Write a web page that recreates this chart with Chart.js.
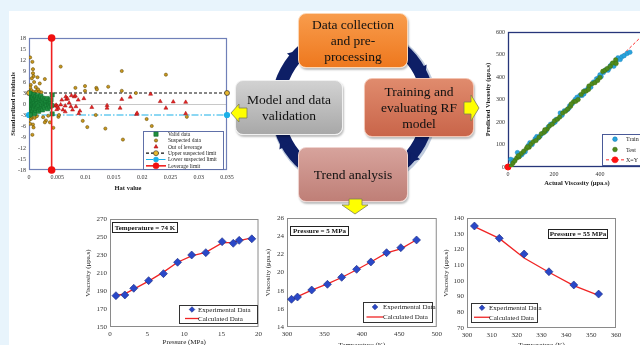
<!DOCTYPE html>
<html>
<head>
<meta charset="utf-8">
<script src="https://cdn.jsdelivr.net/npm/chart.js@4.4.1/dist/chart.umd.min.js"></script>
<style>
  html, body { margin: 0; padding: 0; }
  body { width: 640px; height: 345px; overflow: hidden; position: relative; background: #e8f4fc;
         font-family: 'Liberation Serif', 'Times New Roman', serif; }
  #panel { position: absolute; left: 9px; top: 11px; width: 640px; height: 345px; background: #fff; }
  canvas { position: absolute; }
  .step { position: absolute; box-sizing: border-box; border-radius: 8px; display: flex; align-items: center;
          justify-content: center; text-align: center; font-size: 13.5px; line-height: 16px; color: #111;
          z-index: 2; box-shadow: 1px 2px 2px rgba(0,0,0,0.25); }
  #s1 { left: 298px; top: 13px; width: 110px; height: 55px; background: linear-gradient(#f89c4c, #ee781e); border: 1.5px solid #fcd6b4; }
  #s2 { left: 364px; top: 78px; width: 110px; height: 59px; background: linear-gradient(#e08b6d, #c9654a); border: 1.5px solid #f3c4b2; }
  #s3 { left: 298px; top: 147px; width: 110px; height: 55px; background: linear-gradient(#d7a39c, #bf7f77); border: 1.5px solid #efd3cf; }
  #s4 { left: 235px; top: 80px; width: 108px; height: 55px; background: linear-gradient(#d2d2d2, #a8a8a8); border: 1.5px solid #f0f0f0; }
  #arrows { position: absolute; left: 0; top: 0; z-index: 3; }
</style>
</head>
<body>
<div id="panel"></div>
<canvas id="ring" width="180" height="180" style="left:263px;top:17px;width:180px;height:180px;z-index:1"></canvas>
<canvas id="williams" width="240" height="175" style="left:0;top:20px;width:240px;height:175px"></canvas>
<canvas id="parity" width="200" height="175" style="left:470px;top:20px;width:200px;height:175px"></canvas>
<canvas id="c74" width="190" height="147" style="left:75px;top:205px;width:190px;height:147px"></canvas>
<canvas id="c5" width="190" height="147" style="left:255px;top:205px;width:190px;height:147px"></canvas>
<canvas id="c55" width="190" height="147" style="left:435px;top:205px;width:190px;height:147px"></canvas>

<div class="step" id="s1">Data collection<br>and pre-<br>processing</div>
<div class="step" id="s2">Training and<br>evaluating RF<br>model</div>
<div class="step" id="s3">Trend analysis</div>
<div class="step" id="s4">Model and data<br>validation</div>

<svg id="arrows" width="640" height="345">
  <g fill="#ffff00" stroke="#7d7d55" stroke-width="0.8">
    <polygon points="231,113 239,104 239,108 247,108 247,118 239,118 239,122"/>
    <polygon points="479,108 471,95 471,102 464,102 464,114 471,114 471,121"/>
    <polygon points="349,199 362,199 362,205 368,205 355,214 342,205 349,205"/>
  </g>
</svg>

<script>
// ---- Williams plot (hat value, standardized residual) ----
const hatTicks = [0, 0.005, 0.01, 0.015, 0.02, 0.025, 0.03, 0.035];
const residTicks = [-18, -15, -12, -9, -6, -3, 0, 3, 6, 9, 12, 15, 18];
const validData = [
  [0.0001,0.5],[0.0001,-0.4],[0.0001,1.6],[0.0001,-1.8],[0.0002,2.4],[0.0002,-2.5],[0.0002,0.1],
  [0.0003,1.1],[0.0003,-1.1],[0.0003,2.0],[0.0003,-2.1],[0.0004,0.6],[0.0004,-0.7],[0.0004,2.7],
  [0.0005,1.4],[0.0005,-1.5],[0.0005,0.0],[0.0006,2.2],[0.0006,-2.3],[0.0006,0.9],[0.0007,-0.3],
  [0.0007,1.8],[0.0007,-1.9],[0.0008,0.4],[0.0008,-0.9],[0.0009,2.5],[0.0009,1.2],[0.0009,-1.3],
  [0.0010,0.2],[0.0010,-2.6],[0.0011,1.6],[0.0011,-0.5],[0.0012,2.0],[0.0012,-1.7],[0.0013,0.8],
  [0.0013,-0.2],[0.0014,1.3],[0.0014,-1.2],[0.0015,2.3],[0.0015,0.1],[0.0016,-0.8],[0.0016,1.7],
  [0.0017,-2.0],[0.0018,0.6],[0.0018,-0.4],[0.0019,1.4],[0.0020,-1.4],[0.0020,0.3],[0.0021,2.1],
  [0.0022,-0.9],[0.0022,1.0],[0.0023,-0.1],[0.0024,1.6],[0.0024,-1.6],[0.0025,0.5],[0.0026,-0.6],
  [0.0027,1.1],[0.0028,-1.0],[0.0029,0.2],[0.0030,0.9],[0.0031,-0.5],[0.0032,1.5],[0.0033,-1.3],
  [0.0034,0.4],[0.0035,-0.2],[0.0036,0.8],[0.0037,-0.8],[0.0038,0.3],[0.0040,-0.4],[0.0041,2.5],
  [0.0041,-2.7],[0.0039,1.2],[0.0002,-3.0],[0.0001,3.0]
];
const suspectedData = [
  [0.0002,12.7],[0.0006,11.5],[0.0007,9.5],[0.0007,8.4],[0.0008,7.6],[0.0015,7.3],[0.0028,6.8],
  [0.0056,10.2],[0.0164,9.0],[0.0242,8.0],[0.0099,4.9],[0.0082,4.4],[0.0119,4.4],[0.0120,4.0],
  [0.0140,4.7],[0.0099,3.6],[0.0164,3.6],[0.0189,3.0],[0.0052,-3.5],[0.0053,-3.0],[0.0043,-6.5],
  [0.0095,-4.6],[0.0103,-6.3],[0.0118,-3.0],[0.0135,-6.7],[0.0166,-9.7],[0.0208,-4.1],[0.0217,-6.0],
  [0.0279,-3.5],[0.0030,-4.5],[0.0028,-5.0],[0.0006,-8.4],[0.0001,-4.3],[0.0002,-5.4],[0.0007,-5.6],
  [0.0004,-4.0],[0.0008,-6.4],[0.0001,3.4],[0.0004,3.8],[0.0008,3.3],[0.0013,3.5],[0.0018,3.4],
  [0.0012,4.6],[0.0016,4.0],[0.0022,3.2],[0.0003,5.2],[0.0009,6.0],[0.0019,5.6],[0.0005,-3.5],
  [0.0010,-3.8],[0.0014,-3.3],[0.0025,-3.6],[0.0034,-3.2],[0.0037,-5.0],[0.0002,4.5],[0.0005,7.0]
];
const outOfLeverage = [
  [0.0046,-0.5],[0.0048,-0.3],[0.0050,-0.6],[0.0052,-1.2],[0.0049,-1.5],[0.0058,1.1],[0.0065,2.0],
  [0.0066,1.3],[0.0068,1.5],[0.0064,-0.5],[0.0060,-1.6],[0.0064,-2.1],[0.0074,-0.7],[0.0077,-1.6],
  [0.0075,2.3],[0.0080,2.0],[0.0082,2.2],[0.0087,1.1],[0.0083,-0.7],[0.0088,-2.6],[0.0097,1.5],
  [0.0111,-0.9],[0.0138,-0.4],[0.0138,-1.1],[0.0161,-1.1],[0.0164,1.3],[0.0179,1.9],[0.0190,-2.8],
  [0.0191,-2.5],[0.0215,2.7],[0.0232,0.7],[0.0242,-1.1],[0.0255,0.6],[0.0277,0.5],[0.0277,-2.6],
  [0.0056,-0.2],[0.0071,0.3],[0.0090,-1.9]
];
const upperLimit = [[0, 3], [0.035, 3]];
const lowerLimit = [[0, -3], [0.035, -3]];
const leverageLimit = [[0.004, -18], [0.004, 18]];

// ---- predicted vs actual (actual, predicted) ----
const viscTicks = [0, 100, 200, 300, 400, 500, 600];
const actualTicks = [0, 200, 400, 600];
const trainData = [
  [12,34],[18,22],[25,30],[41,64],[52,50],[60,55],[75,68],[88,95],[95,108],[105,100],[118,125],
  [125,135],[140,138],[152,150],[165,160],[175,178],[185,190],[198,196],[210,212],[227,240],[235,230],
  [245,250],[258,255],[268,272],[280,282],[292,300],[300,310],[312,318],[322,318],[335,340],[348,350],
  [360,355],[372,378],[385,392],[395,398],[405,402],[415,420],[425,432],[435,430],[445,450],[452,458],
  [460,448],[470,470],[478,485],[488,478],[495,490],[505,495],[518,505],[530,510],[65,62],[130,128],
  [205,200],[265,262],[330,325],[400,410],[440,440]
];
const testData = [
  [15,5],[22,18],[30,28],[38,40],[48,45],[58,60],[68,70],[80,82],[92,88],[100,102],[110,112],[122,118],
  [135,132],[145,148],[158,155],[170,168],[180,182],[192,190],[202,205],[215,212],[225,222],[238,240],
  [250,248],[260,258],[272,270],[285,290],[295,292],[305,300],[318,322],[328,335],[340,338],[352,360],
  [365,370],[378,375],[390,385],[400,398],[412,425],[422,430],[432,438],[445,448],[455,462],[468,476],
  [470,460],[350,345],[275,280],[160,165],[85,90],[45,50]
];
const identityLine = [[0, 0], [600, 600]];

// ---- trend charts ----
const pressure74 = [0.8, 2.0, 3.2, 5.2, 7.2, 9.1, 11.0, 12.9, 15.1, 16.6, 17.4, 19.1];
const exp74 = [184.8, 185.6, 193, 201.5, 209.3, 221.9, 230, 232.6, 244.8, 243, 246.3, 248];
const calc74 = [185, 186.8, 192, 201, 211, 222, 229, 233, 243.5, 244, 246, 249];
const pTicks74 = [0, 5, 10, 15, 20];
const vTicks74 = [150, 170, 190, 210, 230, 250, 270];

const temp5 = [306, 314, 333, 354, 373, 393, 412, 433, 452, 473];
const exp5 = [17.05, 17.3, 18.07, 18.7, 19.47, 20.35, 21.16, 22.18, 22.73, 23.58];
const calc5 = [17.0, 17.35, 18.05, 18.75, 19.45, 20.3, 21.15, 22.15, 22.6, 23.6];
const tTicks5 = [300, 350, 400, 450, 500];
const vTicks5 = [14, 16, 18, 20, 22, 24, 26];

const temp55 = [303, 313, 323, 333, 343, 353];
const exp55 = [134.9, 127.1, 117.1, 105.8, 97.4, 91.6];
const calc55 = [134.5, 127, 114.5, 105.5, 97, 90.8];
const tTicks55 = [300, 310, 320, 330, 340, 350, 360];
const vTicks55 = [70, 80, 90, 100, 110, 120, 130, 140];

const SERIF = "'Liberation Serif', 'Times New Roman', serif";
Chart.defaults.font.family = SERIF;
Chart.defaults.color = '#333';
Chart.defaults.animation = false;
Chart.defaults.responsive = false;
Chart.defaults.events = [];
Chart.defaults.plugins.legend.display = false;
Chart.defaults.plugins.tooltip.enabled = false;

const pts = arr => arr.map(p => ({ x: p[0], y: p[1] }));
const zip = (xs, ys) => xs.map((x, i) => ({ x: x, y: ys[i] }));

function marker(c, style, x, y, r, fill, stroke) {
  c.beginPath();
  if (style === 'rect') {
    const h = r * Math.SQRT1_2;
    c.rect(x - h, y - h, 2 * h, 2 * h);
  } else if (style === 'rectRot') {
    c.moveTo(x, y - r); c.lineTo(x + r, y); c.lineTo(x, y + r); c.lineTo(x - r, y); c.closePath();
  } else if (style === 'triangle') {
    for (let k = 0; k < 3; k++) {
      const a = -Math.PI / 2 + k * 2 * Math.PI / 3;
      k ? c.lineTo(x + r * Math.cos(a), y + r * Math.sin(a)) : c.moveTo(x + r * Math.cos(a), y + r * Math.sin(a));
    }
    c.closePath();
  } else {
    c.arc(x, y, r, 0, Math.PI * 2);
  }
  c.fillStyle = fill; c.fill();
  if (stroke) { c.strokeStyle = stroke; c.lineWidth = 0.6; c.stroke(); }
}

// frame round the plot area
const frame = {
  id: 'frame',
  beforeDatasetsDraw(chart, args, o) {
    if (!o.color) return;
    const a = chart.chartArea, c = chart.ctx;
    c.save();
    c.strokeStyle = o.color; c.lineWidth = o.width || 1;
    c.strokeRect(a.left + 0.5, a.top + 0.5, a.width - 1, a.height - 1);
    c.restore();
  }
};

// boxed legend inside the plot area
const boxLegend = {
  id: 'boxLegend',
  afterDraw(chart, args, o) {
    if (!o.items) return;
    const a = chart.chartArea, c = chart.ctx;
    const x = a.left + o.x, y = a.top + o.y, rowH = o.h / o.items.length;
    c.save();
    c.fillStyle = '#fff'; c.fillRect(x, y, o.w, o.h);
    c.strokeStyle = o.border || '#333'; c.lineWidth = 1;
    c.strokeRect(x + 0.5, y + 0.5, o.w, o.h);
    o.items.forEach((idx, k) => {
      const ds = chart.data.datasets[idx];
      const cy = y + rowH * (k + 0.5), sx = x + o.sym;
      if (ds.showLine) {
        c.strokeStyle = ds.borderColor; c.lineWidth = ds.borderWidth;
        c.setLineDash(ds.borderDash || []);
        c.beginPath(); c.moveTo(sx - o.lineLen / 2, cy); c.lineTo(sx + o.lineLen / 2, cy); c.stroke();
        c.setLineDash([]);
      }
      if (ds.pointRadius > 0) {
        marker(c, ds.pointStyle || 'circle', sx, cy, ds.pointRadius * (o.ms || 1),
               ds.pointBackgroundColor || ds.backgroundColor, ds.pointBorderColor || ds.borderColor);
      }
      c.fillStyle = '#222'; c.font = o.font; c.textAlign = 'left'; c.textBaseline = 'middle';
      c.fillText(ds.label, x + o.tx, cy + 0.5);
    });
    c.restore();
  }
};

// condition label box
const noteBox = {
  id: 'noteBox',
  afterDraw(chart, args, o) {
    if (!o.text) return;
    const a = chart.chartArea, c = chart.ctx;
    const x = a.left + o.x, y = a.top + o.y;
    c.save();
    c.fillStyle = '#fff'; c.fillRect(x, y, o.w, o.h);
    c.strokeStyle = '#222'; c.lineWidth = 1; c.strokeRect(x + 0.5, y + 0.5, o.w, o.h);
    c.fillStyle = '#111'; c.font = o.font; c.textAlign = 'center'; c.textBaseline = 'middle';
    c.fillText(o.text, x + o.w / 2 + 0.5, y + o.h / 2 + 1);
    c.restore();
  }
};

Chart.register(frame, boxLegend, noteBox);

function linAxis(o) {
  return {
    type: 'linear', min: o.min, max: o.max,
    afterBuildTicks: s => { s.ticks = o.ticks.map(v => ({ value: v })); },
    afterFit: s => { if (o.w) s.width = o.w; if (o.h) s.height = o.h; },
    ticks: { autoSkip: false, maxRotation: 0, padding: o.pad || 3, color: '#333',
             font: { size: o.fs }, callback: v => String(v) },
    grid: o.grid || { display: false, drawTicks: false },
    border: { display: false },
    title: { display: true, text: o.title, color: '#222', padding: { top: 2, bottom: 3 },
             font: { size: o.tfs, weight: o.bold ? 'bold' : 'normal' } }
  };
}

// ---- Williams plot ----
new Chart(document.getElementById('williams'), {
  type: 'scatter',
  data: {
    datasets: [
      { label: 'Valid data', data: pts(validData), order: 1, pointStyle: 'rect', pointRadius: 3,
        backgroundColor: '#1f8f3f', borderColor: '#0f6a2a', borderWidth: 0.5 },
      { label: 'Suspected data', data: pts(suspectedData), order: 2, pointStyle: 'circle', pointRadius: 1.6,
        backgroundColor: '#c8961e', borderColor: '#5a4500', borderWidth: 0.5 },
      { label: 'Out of leverage', data: pts(outOfLeverage), order: 3, pointStyle: 'triangle', pointRadius: 2.3,
        backgroundColor: '#e82424', borderColor: '#a01010', borderWidth: 0.5 },
      { label: 'Upper suspected limit', data: pts(upperLimit), order: 4, showLine: true, clip: false,
        borderColor: '#111', borderWidth: 1.2, borderDash: [3, 2], pointRadius: 2.5,
        pointBackgroundColor: '#e8b830', pointBorderColor: '#333', pointBorderWidth: 0.7 },
      { label: 'Lower suspected limit', data: pts(lowerLimit), order: 5, showLine: true, clip: false,
        borderColor: '#1ab0e8', borderWidth: 1.2, borderDash: [7, 2, 1.5, 2], pointRadius: 2.5,
        pointBackgroundColor: '#1ab0e8', pointBorderColor: '#1ab0e8' },
      { label: 'Leverage limit', data: pts(leverageLimit), order: 0, showLine: true, clip: false,
        borderColor: '#f02020', borderWidth: 1.6, pointRadius: 3,
        pointBackgroundColor: '#f01010', pointBorderColor: '#f01010' }
    ]
  },
  options: {
    layout: { padding: { left: 7, right: 13, top: 18, bottom: 0 } },
    scales: {
      x: linAxis({ min: 0, max: 0.035, ticks: hatTicks, title: 'Hat value', fs: 6, tfs: 6.5, bold: true, h: 25, pad: 4 }),
      y: linAxis({ min: -18, max: 18, ticks: residTicks, title: 'Standardized residuals', fs: 6, tfs: 6.5, bold: true, w: 22,
                   grid: { display: true, drawTicks: false, lineWidth: 1,
                           color: c => (c.tick && c.tick.value === 0 ? '#c8c8c8' : 'rgba(0,0,0,0)') } })
    },
    plugins: {
      frame: { color: '#7080b8', width: 1.2 },
      boxLegend: { x: 114, y: 93, w: 80, h: 38, sym: 13, lineLen: 20, tx: 25, font: '5.5px ' + SERIF,
                   items: [0, 1, 2, 3, 4, 5], border: '#6070a8' }
    }
  }
});

// ---- predicted vs actual ----
new Chart(document.getElementById('parity'), {
  type: 'scatter',
  data: {
    datasets: [
      { label: 'Train', data: pts(trainData), order: 1, pointRadius: 2.3,
        backgroundColor: '#2aa3dc', borderColor: '#1a80b8', borderWidth: 0.4 },
      { label: 'Test', data: pts(testData), order: 0, pointRadius: 2.3,
        backgroundColor: '#4f8a1c', borderColor: '#3a6a10', borderWidth: 0.4 },
      { label: 'X=Y', data: pts(identityLine), order: 2, showLine: true, clip: false,
        borderColor: '#ff2a2a', borderWidth: 1, borderDash: [3, 2], pointRadius: 3,
        pointBackgroundColor: '#ff1010', pointBorderColor: '#ff1010' }
    ]
  },
  options: {
    layout: { padding: { left: 12, right: 24, top: 12, bottom: 5 } },
    scales: {
      x: linAxis({ min: 0, max: 600, ticks: actualTicks, title: 'Actual Viscosity (\u03bcpa.s)', fs: 6, tfs: 6.5, bold: true, h: 23, pad: 4 }),
      y: linAxis({ min: 0, max: 600, ticks: viscTicks, title: 'Predicted Viscosity (\u03bcpa.s)', fs: 6, tfs: 6.5, bold: true, w: 26 })
    },
    plugins: {
      frame: { color: '#26357a', width: 1.3 },
      boxLegend: { x: 94, y: 102, w: 60, h: 31, sym: 13, lineLen: 18, tx: 24, font: '6px ' + SERIF,
                   items: [0, 1, 2], border: '#4a5a98' }
    }
  }
});

// ---- trend charts ----
function trendChart(id, xs, exp, calc, o) {
  new Chart(document.getElementById(id), {
    type: 'scatter',
    data: {
      datasets: [
        { label: 'Experimental Data', data: zip(xs, exp), order: 0, pointStyle: 'rectRot', pointRadius: 4,
          backgroundColor: '#2a48c8', borderColor: '#1a2a80', borderWidth: 0.6 },
        { label: 'Calculated Data', data: zip(xs, calc), order: 1, showLine: true, pointRadius: 0,
          borderColor: '#f02424', borderWidth: 1.3 }
      ]
    },
    options: {
      layout: { padding: o.pad },
      scales: {
        x: linAxis({ min: o.xt[0], max: o.xt[o.xt.length - 1], ticks: o.xt, title: o.xTitle, fs: 7, tfs: 7, h: o.xh, pad: 3 }),
        y: linAxis({ min: o.yt[0], max: o.yt[o.yt.length - 1], ticks: o.yt, title: 'Viscosity (\u03bcpa.s)', fs: 7, tfs: 7, w: o.yw })
      },
      plugins: {
        frame: { color: '#8a8a8a', width: 1 },
        boxLegend: Object.assign({ items: [0, 1], font: '7px ' + SERIF, ms: 0.7 }, o.legend),
        noteBox: Object.assign({ font: 'bold 7px ' + SERIF }, o.note)
      }
    }
  });
}

trendChart('c74', pressure74, exp74, calc74, {
  xt: pTicks74, yt: vTicks74, xTitle: 'Pressure (MPa)', yw: 28, xh: 22,
  pad: { left: 7, right: 6, top: 14, bottom: 3 },
  legend: { x: 69, y: 86, w: 78, h: 18, sym: 13, lineLen: 14, tx: 19 },
  note: { x: 2, y: 3, w: 65, h: 10, text: 'Temperature = 74 K' }
});
trendChart('c5', temp5, exp5, calc5, {
  xt: tTicks5, yt: vTicks5, xTitle: 'Temperature (K)', yw: 25, xh: 25,
  pad: { left: 7, right: 7, top: 13, bottom: 0 },
  legend: { x: 76, y: 84, w: 69, h: 20, sym: 12, lineLen: 17, tx: 20 },
  note: { x: 3, y: 8, w: 58, h: 9, text: 'Pressure = 5 MPa' }
});
trendChart('c55', temp55, exp55, calc55, {
  xt: tTicks55, yt: vTicks55, xTitle: 'Temperature (K)', yw: 27, xh: 24,
  pad: { left: 5, right: 9, top: 13, bottom: 0 },
  legend: { x: 4, y: 85, w: 66, h: 19, sym: 11, lineLen: 16, tx: 18 },
  note: { x: 81, y: 11, w: 59, h: 9, text: 'Pressure = 55 MPa' }
});

// ---- workflow ring ----
const arrowAngles = [-141, -30, 38, 150];
const ringArrows = {
  id: 'ringArrows',
  beforeDatasetsDraw(chart) {
    const a = chart.chartArea, c = chart.ctx;
    const cx = (a.left + a.right) / 2, cy = (a.top + a.bottom) / 2;
    c.save();
    c.strokeStyle = 'rgba(150,170,200,0.6)'; c.lineWidth = 3;
    c.beginPath(); c.arc(cx + 1, cy + 1, 82, 0, Math.PI * 2); c.stroke();
    c.restore();
  },
  afterDraw(chart) {
    const a = chart.chartArea, c = chart.ctx;
    const cx = (a.left + a.right) / 2, cy = (a.top + a.bottom) / 2, r = 79;
    c.save();
    c.fillStyle = '#0e1f66';
    arrowAngles.forEach(deg => {
      const t = deg * Math.PI / 180;
      const bx = cx + r * Math.cos(t), by = cy + r * Math.sin(t);
      const dx = -Math.sin(t), dy = Math.cos(t);
      c.beginPath();
      c.moveTo(bx + dx * 8, by + dy * 8);
      c.lineTo(bx - dy * 6, by + dx * 6);
      c.lineTo(bx + dy * 6, by - dx * 6);
      c.closePath(); c.fill();
    });
    c.restore();
  }
};
new Chart(document.getElementById('ring'), {
  type: 'doughnut',
  data: { labels: ['cycle'], datasets: [{ data: [1], backgroundColor: '#0e1f66', borderWidth: 0 }] },
  options: { radius: 82, cutout: 76, layout: { padding: 0 } },
  plugins: [ringArrows]
});
</script>
</body>
</html>
